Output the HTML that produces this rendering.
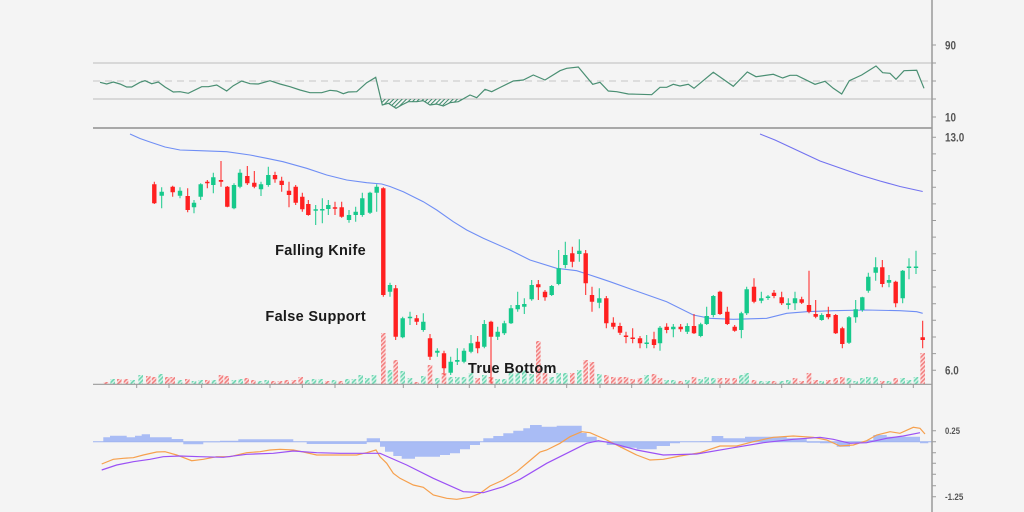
<!DOCTYPE html>
<html><head><meta charset="utf-8"><style>
html,body{margin:0;padding:0;background:#f4f4f4;}
svg{display:block;}
.ax{font-family:"Liberation Sans Narrow","Liberation Sans",sans-serif;font-weight:bold;fill:#555;}
.ann{font-family:"Liberation Sans",sans-serif;font-weight:bold;font-size:14.5px;fill:#1a1a1a;letter-spacing:0.3px;}
</style></head><body>
<svg width="1024" height="512" viewBox="0 0 1024 512" xmlns="http://www.w3.org/2000/svg">
<defs>
<pattern id="hr" width="3" height="3" patternUnits="userSpaceOnUse" patternTransform="rotate(45)"><rect width="3" height="3" fill="#fcdede"/><rect width="1.6" height="3" fill="#f28080"/></pattern>
<pattern id="hg" width="3" height="3" patternUnits="userSpaceOnUse" patternTransform="rotate(45)"><rect width="3" height="3" fill="#d8f4ea"/><rect width="1.6" height="3" fill="#6fd6b2"/></pattern>
<pattern id="hs" width="3" height="3" patternUnits="userSpaceOnUse" patternTransform="rotate(45)"><rect width="1" height="3" fill="#3e8a6c"/></pattern>
</defs>
<rect width="1024" height="512" fill="#f4f4f4"/>

<!-- RSI panel -->
<line x1="93" y1="63" x2="932" y2="63" stroke="#bdbdbd" stroke-width="1"/>
<line x1="93" y1="81" x2="932" y2="81" stroke="#c6c6c6" stroke-width="1" stroke-dasharray="7,5"/>
<line x1="93" y1="99" x2="932" y2="99" stroke="#bdbdbd" stroke-width="1"/>
<line x1="93" y1="128" x2="932" y2="128" stroke="#8f8f8f" stroke-width="1.4"/>
<polygon points="380.9,99 382.3,105 388.3,103.3 396,108.3 401.7,105 408.3,101.7 416.7,101.7 423.3,100.7 430,105 436.7,104 443.3,106 450,102.7 458.3,101.7 463,99" fill="url(#hs)"/>
<polyline fill="none" stroke="#4a8f73" stroke-width="1.2" points="100,82.3 106.7,84 113.3,82 120,84 126.7,87 131.7,87 140,82.3 145,80.7 151.7,83.7 158.3,82 165,87 173.3,92 180,91.7 188.3,93.3 201.7,86.7 208.3,86.7 216.7,85 226.7,91 233.3,85.7 241.7,81 250,83.7 258.3,84 270,80.7 280,84 290,86.7 300,90 310,92.7 321.7,92.7 330,90.3 336.7,91 343.3,93.7 348.3,92 356.7,91.7 366.7,82.7 375.7,77.3 382.3,105 388.3,103.3 396,108.3 401.7,105 408.3,101.7 416.7,101.7 423.3,100.7 430,105 436.7,104 443.3,106 450,102.7 458.3,101.7 470,95 476.7,97.7 485,89.3 491.7,91.7 500,87.5 513.3,81 523.3,80 533.3,75 545,80 560,70.7 566.7,68.3 578.3,67 592.7,84.3 600,82.3 608.3,91 616.7,91.7 628.3,94 640,94.3 651.7,94.7 660,87.3 666.7,87.3 673.3,84.3 680,86 688.3,84.3 694,88.3 713.3,72.3 733.3,86.3 747.3,72 756,76.7 773.3,74.3 782.7,78 790,75.3 796.7,75.3 815,84.3 825,81.3 833.3,88.3 841.7,94 849.3,80.7 861.7,75 876,66 882.7,72.7 890,73.3 896,79.3 904,70.7 916.7,70.3 924,88.3"/>

<!-- Volume -->
<path fill="url(#hr)" d="M103.7 382h4.6v2h-4.6zM117 379h4.6v5h-4.6zM123.7 379h4.6v5h-4.6zM146 376h4.6v8h-4.6zM151.7 377h4.6v7h-4.6zM165 377h4.6v7h-4.6zM170.4 377h4.6v7h-4.6zM185 379h4.6v5h-4.6zM205 380h4.6v4h-4.6zM218.7 375h4.6v9h-4.6zM224.4 376h4.6v8h-4.6zM244.4 378h4.6v6h-4.6zM251 380h4.6v4h-4.6zM271 381h4.6v3h-4.6zM277.7 381h4.6v3h-4.6zM284.4 380h4.6v4h-4.6zM291.7 380h4.6v4h-4.6zM298.4 377h4.6v7h-4.6zM325 381h4.6v3h-4.6zM338.4 381h4.6v3h-4.6zM381 333h4.6v51h-4.6zM393.4 360h4.6v24h-4.6zM414.4 382h4.6v2h-4.6zM427.7 365h4.6v19h-4.6zM441.7 373h4.6v11h-4.6zM475.4 378h4.6v6h-4.6zM488.7 377h4.6v7h-4.6zM536 341h4.6v43h-4.6zM542.7 373h4.6v11h-4.6zM570 373h4.6v11h-4.6zM583.4 360h4.6v24h-4.6zM589.7 362h4.6v22h-4.6zM604 375h4.6v9h-4.6zM611 377h4.6v7h-4.6zM617.7 377h4.6v7h-4.6zM623.7 377h4.6v7h-4.6zM630.4 379h4.6v5h-4.6zM637.7 378h4.6v6h-4.6zM651.7 374h4.6v10h-4.6zM657.7 378h4.6v6h-4.6zM678.4 381h4.6v3h-4.6zM691.7 377h4.6v7h-4.6zM717.7 378h4.6v6h-4.6zM725 378h4.6v6h-4.6zM732.4 378h4.6v6h-4.6zM751.7 380h4.6v4h-4.6zM771.7 381h4.6v3h-4.6zM792.7 378h4.6v6h-4.6zM799.4 381h4.6v3h-4.6zM806.7 373h4.6v11h-4.6zM813.4 380h4.6v4h-4.6zM826 380h4.6v4h-4.6zM833.4 378h4.6v6h-4.6zM840 377h4.6v7h-4.6zM880 381h4.6v3h-4.6zM893.4 378h4.6v6h-4.6zM920.4 353h4.6v31h-4.6z"/>
<path fill="url(#hg)" d="M110.4 379h4.6v5h-4.6zM130.4 380h4.6v4h-4.6zM138.4 375h4.6v9h-4.6zM158.4 374h4.6v10h-4.6zM177.7 380h4.6v4h-4.6zM191.7 381h4.6v3h-4.6zM198.4 380h4.6v4h-4.6zM211.7 380h4.6v4h-4.6zM231.7 380h4.6v4h-4.6zM238.4 379h4.6v5h-4.6zM257.7 381h4.6v3h-4.6zM264.4 380h4.6v4h-4.6zM305 380h4.6v4h-4.6zM311.7 379h4.6v5h-4.6zM318.4 379h4.6v5h-4.6zM331.7 380h4.6v4h-4.6zM345 379h4.6v5h-4.6zM351.7 379h4.6v5h-4.6zM358.4 375h4.6v9h-4.6zM365 378h4.6v6h-4.6zM371.7 375h4.6v9h-4.6zM387.7 370h4.6v14h-4.6zM400.4 371h4.6v13h-4.6zM407.7 378h4.6v6h-4.6zM421 376h4.6v8h-4.6zM435 378h4.6v6h-4.6zM448.4 377h4.6v7h-4.6zM455 377h4.6v7h-4.6zM461.7 377h4.6v7h-4.6zM468.7 373h4.6v11h-4.6zM482 375h4.6v9h-4.6zM495.4 379h4.6v5h-4.6zM502 379h4.6v5h-4.6zM508.7 372h4.6v12h-4.6zM515.4 373h4.6v11h-4.6zM522 370h4.6v14h-4.6zM529.4 374h4.6v10h-4.6zM549.4 377h4.6v7h-4.6zM556.4 373h4.6v11h-4.6zM563 373h4.6v11h-4.6zM577 370h4.6v14h-4.6zM597 374h4.6v10h-4.6zM644.4 375h4.6v9h-4.6zM664.4 380h4.6v4h-4.6zM671 380h4.6v4h-4.6zM685 380h4.6v4h-4.6zM698.4 379h4.6v5h-4.6zM704.4 377h4.6v7h-4.6zM711 378h4.6v6h-4.6zM739 375h4.6v9h-4.6zM744.4 373h4.6v11h-4.6zM759 381h4.6v3h-4.6zM765.7 381h4.6v3h-4.6zM779.4 381h4.6v3h-4.6zM786 380h4.6v4h-4.6zM819.4 381h4.6v3h-4.6zM846.7 378h4.6v6h-4.6zM853.4 381h4.6v3h-4.6zM860 378h4.6v6h-4.6zM866 377h4.6v7h-4.6zM873.4 377h4.6v7h-4.6zM886.7 381h4.6v3h-4.6zM900.4 378h4.6v6h-4.6zM906.7 380h4.6v4h-4.6zM913.7 377h4.6v7h-4.6z"/>

<line x1="93" y1="384.3" x2="932" y2="384.3" stroke="#9a9a9a" stroke-width="1.2"/>
<path stroke="#9a9a9a" stroke-width="1" d="M136.7 384v4M169 384v4M201.7 384v4M270 384v4M302.3 384v4M335 384v4M403.3 384v4M437.7 384v4M469.3 384v4M495 384v4M566.7 384v4M600 384v4M631.7 384v4M688.3 384v4M720 384v4M781.7 384v4M850 384v4M881.7 384v4M913.3 384v4"/>

<!-- Moving averages -->
<polyline fill="none" stroke="#6f8ef5" stroke-width="1.1" points="130,134 140,138.5 150,142 165,147 180,150 200,150.7 226.7,151.7 250,155 266.7,158.3 283,161.7 306.7,168.3 326.7,175 346.7,180 366.7,182.7 381.7,184 390,186.5 403.3,191.7 423.3,201.7 436.7,210 453.3,221.7 466.7,230 483.3,238.3 510,250 530,260 556.7,268.3 576.7,270.7 590,275 600,278.3 610,281.7 633.3,290 666.7,301.7 693.3,315 710,318.3 733.3,319.3 766.7,318.3 786.7,313.3 806.7,311.7 833.3,310.7 866.7,310 900,310.7 916.7,311.7 922.7,313.3"/>
<polyline fill="none" stroke="#7272f0" stroke-width="1.1" points="760,134 775,140 790,147 805,154 820,161 840,168 860,175 880,181 900,186.5 922.7,191.5"/>

<!-- Candles -->
<g stroke="#ff2020" stroke-width="1" fill="none">
<path d="M154.3 181.7V204M172.7 185.7V196.7M187.7 188.3V212.3M207.3 180V188.3M221 161V186.7M227.3 186V207.3M247.3 166V185M254.3 171V188.3M275 171.7V182.7M281.7 176.7V191.7M289 181.7V207.3M295.7 185V205M302.3 192.7V211.7M308.3 200V215.7M335 201.7V215M341.7 201.7V217.7M383.3 187.3V296.7M395.7 285V340M416.7 315V325M430 334V360M444 350.7V375M477.7 336V353.3M491 320.7V383.3M538.3 280V300M545 290V300.7M572.3 246.7V267.3M585.7 250V295M592 286.7V311.7M606.3 296V328.3M613.3 317.3V329.3M620 322.7V335M626 331.7V343.3M632.7 328.3V343.3M640 336V348.3M654 331.7V348.3M666.7 323.3V333.3M680.7 324V331.7M694 314V334M720 290.7V315M727.3 306.7V325M734.7 325V331.7M754 278.3V303.3M774 290V298.3M781.7 291.7V305M801.7 296.7V304M809 270.7V313.3M815.7 300V318.3M828.3 306.7V319.3M835.7 314V334M842.3 326.7V348.3M882.3 260V287.3M895.7 280.7V307.3M922.7 320.7V348.3"/>
</g>
<path fill="#ff2020" d="M152.1 184.3h4.4v19h-4.4zM170.5 186.7h4.4v5.6h-4.4zM185.5 196h4.4v14h-4.4zM205.1 181.7h4.4v1.6h-4.4zM218.8 180h4.4v1.7h-4.4zM225.1 186.7h4.4v20h-4.4zM245.1 176h4.4v7.3h-4.4zM252.1 182.7h4.4v4h-4.4zM272.8 175h4.4v4.3h-4.4zM279.5 180.7h4.4v4.3h-4.4zM286.8 190.7h4.4v4.3h-4.4zM293.5 186.7h4.4v16h-4.4zM300.1 196.7h4.4v12.6h-4.4zM306.1 204h4.4v11h-4.4zM332.8 207.3h4.4v1.5h-4.4zM339.5 207.3h4.4v9.4h-4.4zM381.1 188.3h4.4v106.7h-4.4zM393.5 288.3h4.4v48.4h-4.4zM414.5 318.3h4.4v3.4h-4.4zM427.8 338.3h4.4v18.4h-4.4zM441.8 353.3h4.4v15h-4.4zM475.5 341.7h4.4v6.6h-4.4zM488.8 321.7h4.4v15h-4.4zM536.1 284.3h4.4v3h-4.4zM542.8 291.7h4.4v5.6h-4.4zM570.1 253.3h4.4v8.4h-4.4zM583.5 253.3h4.4v30h-4.4zM589.8 295h4.4v6.7h-4.4zM604.1 298.3h4.4v25h-4.4zM611.1 322.7h4.4v4h-4.4zM617.8 326h4.4v6.7h-4.4zM623.8 335.5h4.4v1.5h-4.4zM630.5 337.5h4.4v1.5h-4.4zM637.8 338.3h4.4v5h-4.4zM651.8 339.3h4.4v5.7h-4.4zM664.5 326.7h4.4v3.3h-4.4zM678.5 326.7h4.4v2.6h-4.4zM691.8 326h4.4v7.3h-4.4zM717.8 291.7h4.4v22.3h-4.4zM725.1 311.7h4.4v12.3h-4.4zM732.5 326.7h4.4v4h-4.4zM751.8 286.7h4.4v15h-4.4zM771.8 292.7h4.4v3.3h-4.4zM779.5 297.3h4.4v6h-4.4zM799.5 299.3h4.4v3.4h-4.4zM806.8 305h4.4v6.7h-4.4zM813.5 314h4.4v2.7h-4.4zM826.1 314h4.4v3.3h-4.4zM833.5 315h4.4v18.3h-4.4zM840.1 328.3h4.4v15.7h-4.4zM880.1 267.3h4.4v16.7h-4.4zM893.5 281.7h4.4v21.6h-4.4zM920.5 337.3h4.4v2.7h-4.4z"/>
<g stroke="#16c98b" stroke-width="1" fill="none">
<path d="M161.7 187.3V208.3M180 187.3V198.3M194 200V213.3M200.7 183.3V200M213.3 172.7V193.3M234 183.3V209.3M240 169.3V188.3M261 181.7V196M268.3 166.7V186.7M315.7 205V225M322.3 198.3V223.3M328.3 200V215M349 210V222.7M355.7 206.7V221.7M362.3 192.7V216.7M370 191.7V214M376.7 184.3V211.7M390 282.7V296.7M402.7 316.7V338.3M410 311.7V325M423.3 313.3V331.7M437.3 348.3V356.7M450.7 356.7V375M457.3 348.3V365M464 348.3V363.3M471 335V353.3M484.3 320V348.3M497.7 326.7V340M504.3 320.7V335M511 305V324M517.7 291.7V311.7M524.3 298.3V314M531.7 280V300.7M551.7 285V296M558.7 250V285.3M565.3 241.7V268.3M579.3 239.3V261.7M599.3 288.3V308.3M646.7 335V348.3M660 326V350.7M673.3 324V337.3M687.3 323.3V334M700.7 322.7V337.3M706.7 306.7V325M713.3 295V317.3M741.3 311.7V338.3M746.7 286.7V315M761.3 291.7V303.3M768 295V300M788.3 298.3V309.3M795 291.7V310M821.7 313.3V320.7M849 316V344M855.7 300V322.7M862.3 296.7V311.7M868.3 272.7V292.7M875.7 257.3V280.7M889 275V287.3M902.7 270V303.3M909 258.3V279.3M916 250.7V274"/>
</g>
<path fill="#16c98b" d="M159.5 191.7h4.4v4h-4.4zM177.8 190.7h4.4v5h-4.4zM191.8 202.7h4.4v4.6h-4.4zM198.5 184.3h4.4v12.4h-4.4zM211.1 177.3h4.4v7.7h-4.4zM231.8 185h4.4v23.3h-4.4zM237.8 172.7h4.4v14h-4.4zM258.8 184.3h4.4v5h-4.4zM266.1 175h4.4v10h-4.4zM313.5 209.3h4.4v1.5h-4.4zM320.1 209h4.4v1.5h-4.4zM326.1 205h4.4v4h-4.4zM346.8 215h4.4v5h-4.4zM353.5 211.7h4.4v3.3h-4.4zM360.1 198.3h4.4v16.7h-4.4zM367.8 192.7h4.4v20h-4.4zM374.5 186.7h4.4v6h-4.4zM387.8 285h4.4v6.7h-4.4zM400.5 318.3h4.4v19h-4.4zM407.8 316.7h4.4v1.6h-4.4zM421.1 321.7h4.4v8.3h-4.4zM435.1 350.7h4.4v2h-4.4zM448.5 361.7h4.4v11h-4.4zM455.1 360h4.4v1.7h-4.4zM461.8 350.7h4.4v11h-4.4zM468.8 343.3h4.4v8.4h-4.4zM482.1 324h4.4v22.7h-4.4zM495.5 331.7h4.4v5h-4.4zM502.1 323.3h4.4v10h-4.4zM508.8 308.3h4.4v15h-4.4zM515.5 305h4.4v4.3h-4.4zM522.1 304h4.4v2.7h-4.4zM529.5 285h4.4v14.3h-4.4zM549.5 286h4.4v9h-4.4zM556.5 268.3h4.4v15.7h-4.4zM563.1 255h4.4v10h-4.4zM577.1 250.7h4.4v3.3h-4.4zM597.1 298.3h4.4v4.4h-4.4zM644.5 342.5h4.4v1.5h-4.4zM657.8 327.7h4.4v15.6h-4.4zM671.1 326.7h4.4v2.6h-4.4zM685.1 326h4.4v5.7h-4.4zM698.5 324.3h4.4v11.7h-4.4zM704.5 316h4.4v8h-4.4zM711.1 296h4.4v19h-4.4zM739.1 313.3h4.4v16.7h-4.4zM744.5 289.3h4.4v24h-4.4zM759.1 298.3h4.4v2.4h-4.4zM765.8 296.5h4.4v1.5h-4.4zM786.1 303.3h4.4v1.7h-4.4zM792.8 298.3h4.4v5h-4.4zM819.5 315h4.4v5h-4.4zM846.8 317.3h4.4v25.4h-4.4zM853.5 309.3h4.4v8h-4.4zM860.1 297.3h4.4v12.7h-4.4zM866.1 276.7h4.4v14h-4.4zM873.5 267.3h4.4v5.4h-4.4zM886.8 280h4.4v2.7h-4.4zM900.5 270.7h4.4v27.6h-4.4zM906.8 266.5h4.4v1.5h-4.4zM913.8 266.5h4.4v1.5h-4.4z"/>

<!-- Annotations -->
<text class="ann" x="366" y="255" text-anchor="end">Falling Knife</text>
<text class="ann" x="366" y="321" text-anchor="end">False Support</text>
<text class="ann" x="468" y="373">True Bottom</text>

<!-- MACD -->
<path fill="#a9bcf5" d="M103.3 441.7V437.3H110V435.7H126.7V437.3H135V435.7H141.7V434.3H150V437.3H171.7V439H183.3V444.3H203.3V442.3H220V440.7H238.3V439.3H293.3V441.7H306.7V444H366.7V438.3H380V446.7H385V451.7H393.3V456H401.7V458.7H415V456.7H440V455H450V453.3H460V449.3H470V445H480V441.7H483.3V438.3H493.3V436H503.3V433.3H513.3V430.7H523.3V428.3H530V425H541.7V426.7H556.7V425.7H581.7V433H586.7V436.7H596.7V441.7H606.7V445H620V447.7H636.7V449.3H656.7V446H670V443.3H680V441.7H700V441.3H711.7V436H723.3V438.3H745V436.7H786.7V438.3H806.7V442.7H820V443.3H836.7V446.7H850V443.3H866.7V440H873.3V435H886.7V436.7H920V443.3H928.3V441.7Z"/>
<line x1="93" y1="441.7" x2="932" y2="441.7" stroke="#9fb3f0" stroke-width="1"/>
<polyline fill="none" stroke="#f6a04d" stroke-width="1.2" points="101.7,464 113.3,459.3 123.3,458.3 133.3,457.7 143.3,455 156.7,452 165,451.7 176.7,455 191.7,460.7 203.3,459.3 216.7,456.7 230,456.7 246.7,452.7 260,451.7 270,450 280,449.3 293.3,450 303.3,452 316.7,455 333.3,455 356.7,455 366.7,452.7 376,450 380,456.7 386.7,463.3 393.3,473.3 400,478.3 413.3,485 423.3,487.3 433.3,495 446.7,498.3 456.7,499.3 470,497.3 480,493.3 490,486 503.3,480 516.7,471.7 530,460.5 540,452 546.7,450 560,443.3 570,436.7 581.7,431.7 590,432.7 606.7,440 620,446.7 636.7,455 650,460 663.3,459.3 680,456 700,452.7 720,446 736.7,446 753.3,441.7 773.3,437.3 793.3,436 813.3,437.3 826.7,440 840,446 853.3,445 866.7,440.7 876.7,435 890,431.7 900,433.3 913.3,427.3 920,428.3 925,434"/>
<polyline fill="none" stroke="#9b51f5" stroke-width="1.2" points="101.7,470 116.7,465 133.3,461.7 150,459.3 163.3,456.7 180,456 200,456.7 223.3,457.3 246.7,454.3 273.3,453.3 293.3,451 316.7,452.7 340,453.3 380,453.3 406.7,465 433.3,478.3 463.3,491.7 483.3,492.7 503.3,486.7 520,479.3 546.7,463.3 570,451.7 586.7,443.3 598.3,440.7 610,442.7 636.7,450 663.3,455 696.7,454 730,448.3 763.3,442.7 793.3,439.3 820,437.3 833.3,439.3 850,443.3 866.7,442.7 886.7,438.3 903.3,436 920,432.7"/>

<!-- Right axis -->
<line x1="932" y1="0" x2="932" y2="512" stroke="#9a9a9a" stroke-width="1.5"/>
<path stroke="#9a9a9a" stroke-width="1" d="M932 45h4M932 63h4M932 81h4M932 99h4M932 117h4M932 137.3h4M932 153.9h4M932 170.6h4M932 187.2h4M932 203.9h4M932 220.5h4M932 237.1h4M932 253.8h4M932 270.4h4M932 287h4M932 303.7h4M932 320.3h4M932 337h4M932 353.6h4M932 370.3h4M932 430.7h4M932 441.7h4M932 452.7h4M932 463.3h4M932 474.3h4M932 485.7h4M932 496.7h4"/>
<text class="ax" x="945" y="49.3" font-size="12" textLength="11" lengthAdjust="spacingAndGlyphs">90</text>
<text class="ax" x="945" y="121.3" font-size="12" textLength="11" lengthAdjust="spacingAndGlyphs">10</text>
<text class="ax" x="945" y="141.6" font-size="12" textLength="19.3" lengthAdjust="spacingAndGlyphs">13.0</text>
<text class="ax" x="945" y="374.6" font-size="12" textLength="13.7" lengthAdjust="spacingAndGlyphs">6.0</text>
<text class="ax" x="945" y="434" font-size="9" textLength="15" lengthAdjust="spacingAndGlyphs">0.25</text>
<text class="ax" x="945" y="500" font-size="9" textLength="18.3" lengthAdjust="spacingAndGlyphs">-1.25</text>
</svg>
</body></html>
